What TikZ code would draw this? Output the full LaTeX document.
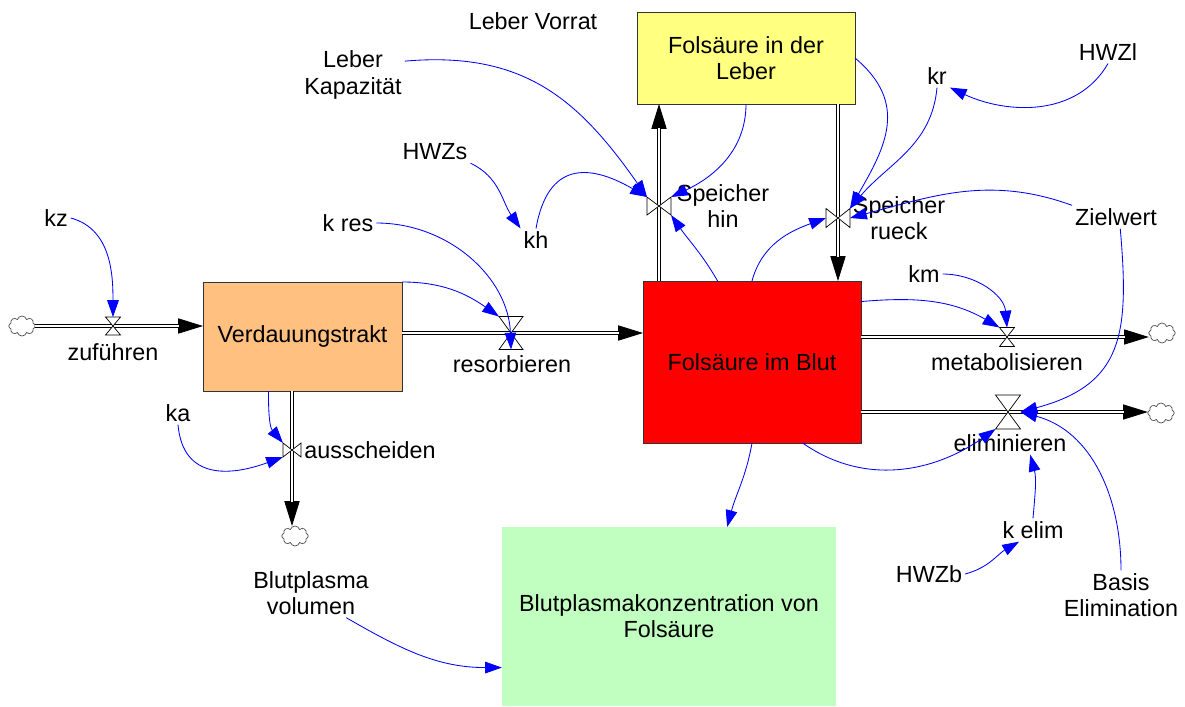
\documentclass[tikz,border=0pt]{standalone}
\usepackage{fontspec}
\setmainfont{Liberation Sans}
\usetikzlibrary{arrows.meta,shapes.symbols}

\definecolor{verdcol}{RGB}{255,192,128}
\definecolor{blutcol}{RGB}{255,0,0}
\definecolor{lebercol}{RGB}{255,255,128}
\definecolor{plasmacol}{RGB}{192,255,192}

\begin{document}
\begin{tikzpicture}[x=0.025cm,y=-0.025cm,
  every node/.style={font=\fontsize{16.6}{18.6}\selectfont,align=center,inner sep=2pt},
  stock/.style={draw=black!80,line width=0.6pt,inner sep=0pt,outer sep=0pt},
  sink/.style={cloud,cloud puffs=8,draw=black!70,line width=0.5pt,fill=white,minimum width=0.66cm,minimum height=0.5cm,inner sep=0pt,outer sep=0pt},
  valve/.style={inner sep=0pt,outer sep=0pt},
  vshape/.style={draw=black,fill=white,line width=0.5pt},
  pipe/.style={draw=black,double=white,line width=0.6pt,double distance=2pt,shorten >=0.6cm},
  pipetip/.style={line width=0.6pt,-{Triangle[length=0.62cm,width=0.38cm]}},
  infl/.style={draw=blue,line width=0.6pt,-{Triangle[length=0.42cm,width=0.29cm]}}]
\useasboundingbox (0,0) rectangle (1185,706);

% stocks
\node[stock,fill=verdcol,minimum width=4.975cm,minimum height=2.725cm] (verd) at (302.5,336.5) {Verdauungstrakt};
\node[stock,fill=blutcol,minimum width=5.45cm,minimum height=4.05cm] (blut) at (752,362) {Folsäure im Blut};
\node[stock,fill=lebercol,minimum width=5.45cm,minimum height=2.3cm] (leber) at (746,58) {Folsäure in der\\Leber};
\node[fill=plasmacol,minimum width=8.35cm,minimum height=4.475cm,inner sep=0pt,outer sep=0pt] (plasma) at (669,616.5) {Blutplasmakonzentration von\\Folsäure};

% clouds
\node[sink] (c1) at (22,326) {};
\node[sink] (c2) at (295,536) {};
\node[sink] (c3) at (1162,333) {};
\node[sink] (c4) at (1161,413) {};

% valves
\node[valve,minimum width=0.375cm,minimum height=0.45cm] (vzu) at (113,326) {};
\node[valve,minimum width=0.6cm,minimum height=0.825cm] (vres) at (511,333) {};
\node[valve,minimum width=0.45cm,minimum height=0.35cm] (vaus) at (292,450) {};
\node[valve,minimum width=0.6cm,minimum height=0.45cm] (vhin) at (659,206) {};
\node[valve,minimum width=0.6cm,minimum height=0.475cm] (vrck) at (838,218) {};
\node[valve,minimum width=0.375cm,minimum height=0.475cm] (vmet) at (1007,337) {};
\node[valve,minimum width=0.625cm,minimum height=0.85cm] (vel) at (1008,412) {};

% flow labels
\node (zuf) at (113,352) {zuführen};
\node (res) at (512,364) {resorbieren};
\node (aus) at (370,450) {ausscheiden};
\node (hin) at (723,206) {Speicher\\hin};
\node (rck) at (899,218) {Speicher\\rueck};
\node (met) at (1007,362) {metabolisieren};
\node (elim) at (1010,443) {eliminieren};

% auxiliaries
\node (kz) at (56,218) {kz};
\node (kres) at (348,223) {k res};
\node (ka) at (178,413) {ka};
\node (hwzs) at (435,152) {HWZs};
\node (kh) at (536,240) {kh};
\node (vorrat) at (533,21) {Leber Vorrat};
\node (lkap) at (353,75) {Leber\\Kapazität};
\node (hwzl) at (1108,52) {HWZl};
\node (kr) at (937,76) {kr};
\node (ziel) at (1116,217) {Zielwert};
\node (km) at (924,274) {km};
\node (kelim) at (1033,530) {k elim};
\node (hwzb) at (929,574) {HWZb};
\node (basis) at (1121,595) {Basis\\Elimination};
\node (bvol) at (311,593) {Blutplasma\\volumen};

% pipes
\draw[pipetip] (vzu) -- (verd.west |- vzu);
\draw[pipe] (c1.east) -- (verd.west |- vzu);
\draw[pipetip] (vres) -- (blut.west |- vres);
\draw[pipe] (verd.east |- vres) -- (blut.west |- vres);
\draw[pipetip] (vaus) -- (vaus |- c2.north);
\draw[pipe] (vaus |- verd.south) -- (vaus |- c2.north);
\draw[pipetip] (vhin) -- (vhin |- leber.south);
\draw[pipe] (vhin |- blut.north) -- (vhin |- leber.south);
\draw[pipetip] (vrck) -- (vrck |- blut.north);
\draw[pipe] (vrck |- leber.south) -- (vrck |- blut.north);
\draw[pipetip] (vmet) -- (c3.west |- vmet);
\draw[pipe] (blut.east |- vmet) -- (c3.west |- vmet);
\draw[pipetip] (vel) -- (c4.west |- vel);
\draw[pipe] (blut.east |- vel) -- (c4.west |- vel);

\draw[vshape] (vzu.north west) -- (vzu.north east) -- (vzu.south west) -- (vzu.south east) -- cycle;
\draw[vshape] (vres.north west) -- (vres.north east) -- (vres.south west) -- (vres.south east) -- cycle;
\draw[vshape] (vmet.north west) -- (vmet.north east) -- (vmet.south west) -- (vmet.south east) -- cycle;
\draw[vshape] (vel.north west) -- (vel.north east) -- (vel.south west) -- (vel.south east) -- cycle;
\draw[vshape] (vaus.north west) -- (vaus.south west) -- (vaus.north east) -- (vaus.south east) -- cycle;
\draw[vshape] (vhin.north west) -- (vhin.south west) -- (vhin.north east) -- (vhin.south east) -- cycle;
\draw[vshape] (vrck.north west) -- (vrck.south west) -- (vrck.north east) -- (vrck.south east) -- cycle;

% connectors
\draw[infl] (kz.east) to[out=-15,in=90] (vzu.north);
\draw[infl] (kres.east) to[out=0,in=92] (vres.south);
\draw[infl] (verd.north east) to[out=0,in=145] (vres.north west);
\draw[infl] (verd.-122) to[out=-90,in=130] (vaus.north west);
\draw[infl] (ka.south) to[out=-85,in=200,looseness=1.3] (vaus.south west);
\draw[infl] (hwzs.south east) to[out=-25,in=125] (kh.north west);
\draw[infl] (kh.north) to[out=80,in=150,looseness=1.5] (vhin.north west);
\draw[infl] (lkap.15) to[out=5,in=125,looseness=1.1] (vhin.north west);
\draw[infl] (leber.south) to[out=-90,in=25] (vhin.north east);
\draw[infl] (blut.113) to[out=120,in=-55] (vhin.south east);
\draw[infl] (blut.north) to[out=75,in=200] (vrck.west);
\draw[infl] (leber.east) to[out=-40,in=60,looseness=1.2] (vrck.north east);
\draw[infl] (kr.south) to[out=-95,in=50] (vrck.north east);
\draw[infl] (ziel.north west) to[out=160,in=15] (vrck.east);
\draw[infl] (hwzl.south) to[out=-120,in=-25] (kr.south east);
\draw[infl] (km.east) to[out=0,in=95] (vmet.north);
\draw[infl] (blut.29) to[out=5,in=150] (vmet.north west);
\draw[infl] (ziel.-70) to[out=-85,in=15,looseness=1.3] (vel.east);
\draw[infl] (blut.-58) to[out=-35,in=215] (vel.south west);
\draw[infl] (kelim.north) to[out=85,in=-75] (elim.-30);
\draw[infl] (hwzb.east) to[out=15,in=-150] (kelim.-140);
\draw[infl] (basis.north) to[out=90,in=-15] (vel.east);
\draw[infl] (blut.south) to[out=-100,in=75] (plasma.57);
\draw[infl] (bvol.-35) to[out=-30,in=180] (plasma.197);
\end{tikzpicture}
\end{document}
